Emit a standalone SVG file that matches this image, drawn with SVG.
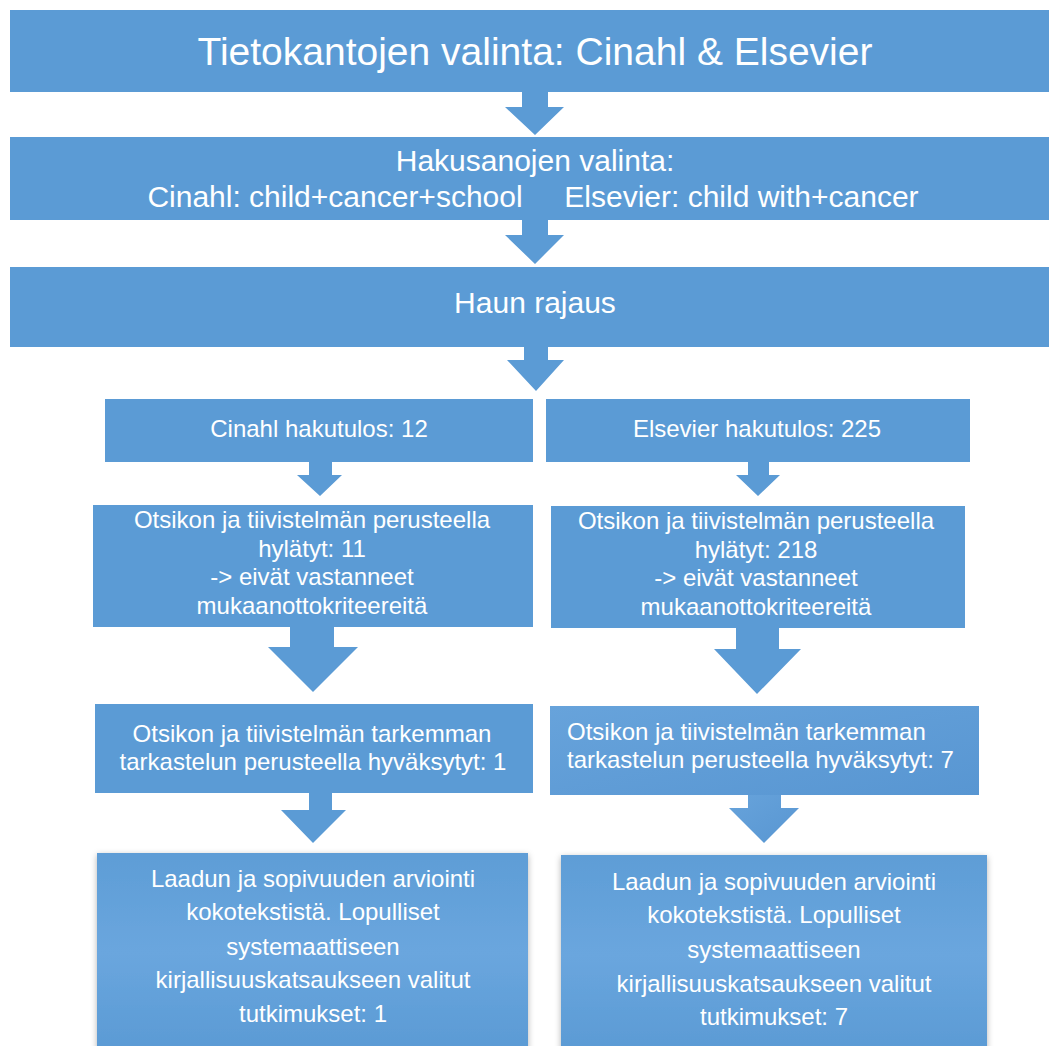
<svg xmlns="http://www.w3.org/2000/svg" width="1049" height="1046" viewBox="0 0 1049 1046">
<defs>
<style>
.box{fill:#5B9BD5;}
.arr{fill:#5B9BD5;}
.t{font-family:"Liberation Sans",Arial,sans-serif;fill:#ffffff;text-anchor:middle;}
.t38{font-size:39px;}
.t30{font-size:30px;}
.t24{font-size:24px;}
</style>
<linearGradient id="g1" x1="0" y1="0" x2="0" y2="1">
<stop offset="0" stop-color="#5E9DD6"/>
<stop offset="0.5" stop-color="#6AA6DE"/>
<stop offset="1" stop-color="#5A9AD4"/>
</linearGradient>
<linearGradient id="g2" x1="0" y1="0" x2="1" y2="1">
<stop offset="0" stop-color="#67A3DB"/>
<stop offset="1" stop-color="#5896D2"/>
</linearGradient>
<filter id="sh" x="-5%" y="-5%" width="110%" height="115%">
<feDropShadow dx="0" dy="2" stdDeviation="3" flood-color="#000" flood-opacity="0.3"/>
</filter>
</defs>
<rect width="1049" height="1046" fill="#ffffff"/>

<g id="connectors">
<polygon class="arr" points="522,92 548,92 548,107 564,107 535,135 505,107 522,107"/>
<polygon class="arr" points="522,220 548,220 548,235 564,235 535,264 505,235 522,235"/>
<polygon class="arr" points="524,347 548,347 548,360 564,360 536,391 507,360 524,360"/>
<polygon class="arr" points="309,462 332,462 332,475 342,475 320,496 297,475 309,475"/>
<polygon class="arr" points="748,462 769,462 769,475 780,475 758,496 736,475 748,475"/>
<polygon class="arr" points="290,627 334,627 334,647 358,647 313,692 268,647 290,647"/>
<polygon class="arr" points="736,628 779,628 779,649 801,649 757,694 714,649 736,649"/>
<polygon class="arr" points="309,793 332,793 332,810 346,810 313,843 281,810 309,810"/>
<polygon fill="url(#g2)" points="748,795 781,795 781,808 799,808 764,843 729,808 748,808"/>
</g>

<g id="n1">
<rect class="box" x="10" y="10" width="1039" height="82"/>
<text class="t t38" x="535" y="65">Tietokantojen valinta: Cinahl &amp; Elsevier</text>
</g>

<g id="n2">
<rect class="box" x="10" y="137" width="1039" height="83"/>
<text class="t t30" x="535" y="171">Hakusanojen valinta:</text>
<text class="t t30" x="533" y="207" xml:space="preserve">Cinahl: child+cancer+school     Elsevier: child with+cancer</text>
</g>

<g id="n3">
<rect class="box" x="10" y="267" width="1039" height="80"/>
<text class="t t30" x="535" y="313">Haun rajaus</text>
</g>

<g id="n4">
<rect class="box" x="105" y="399" width="428" height="63"/>
<text class="t t24" x="319" y="437">Cinahl hakutulos: 12</text>
</g>

<g id="n5">
<rect class="box" x="546" y="399" width="424" height="63"/>
<text class="t t24" x="757" y="437">Elsevier hakutulos: 225</text>
</g>

<g id="n6">
<rect class="box" x="93" y="505" width="440" height="122"/>
<text class="t t24" x="312" y="528">Otsikon ja tiivistelmän perusteella</text>
<text class="t t24" x="312" y="557">hylätyt: 11</text>
<text class="t t24" x="312" y="585">-&gt; eivät vastanneet</text>
<text class="t t24" x="312" y="614">mukaanottokriteereitä</text>
</g>

<g id="n7">
<rect class="box" x="551" y="506" width="414" height="122"/>
<text class="t t24" x="756" y="529">Otsikon ja tiivistelmän perusteella</text>
<text class="t t24" x="756" y="558">hylätyt: 218</text>
<text class="t t24" x="756" y="586">-&gt; eivät vastanneet</text>
<text class="t t24" x="756" y="615">mukaanottokriteereitä</text>
</g>

<g id="n8">
<rect class="box" x="95" y="704" width="438" height="89"/>
<text class="t t24" x="312" y="742">Otsikon ja tiivistelmän tarkemman</text>
<text class="t t24" x="313" y="770">tarkastelun perusteella hyväksytyt: 1</text>
</g>

<g id="n9">
<rect fill="url(#g2)" x="550" y="706" width="429" height="89"/>
<text class="t t24" x="567" y="740" style="text-anchor:start">Otsikon ja tiivistelmän tarkemman</text>
<text class="t t24" x="567" y="768" style="text-anchor:start">tarkastelun perusteella hyväksytyt: 7</text>
</g>

<g id="n10">
<rect fill="url(#g1)" filter="url(#sh)" x="97" y="853" width="431" height="200"/>
<text class="t t24" x="313" y="887">Laadun ja sopivuuden arviointi</text>
<text class="t t24" x="313" y="920">kokotekstistä. Lopulliset</text>
<text class="t t24" x="313" y="955">systemaattiseen</text>
<text class="t t24" x="313" y="988">kirjallisuuskatsaukseen valitut</text>
<text class="t t24" x="313" y="1022">tutkimukset: 1</text>
</g>

<g id="n11">
<rect fill="url(#g1)" filter="url(#sh)" x="561" y="855" width="426" height="200"/>
<text class="t t24" x="774" y="890">Laadun ja sopivuuden arviointi</text>
<text class="t t24" x="774" y="923">kokotekstistä. Lopulliset</text>
<text class="t t24" x="774" y="958">systemaattiseen</text>
<text class="t t24" x="774" y="992">kirjallisuuskatsaukseen valitut</text>
<text class="t t24" x="774" y="1025">tutkimukset: 7</text>
</g>
</svg>
